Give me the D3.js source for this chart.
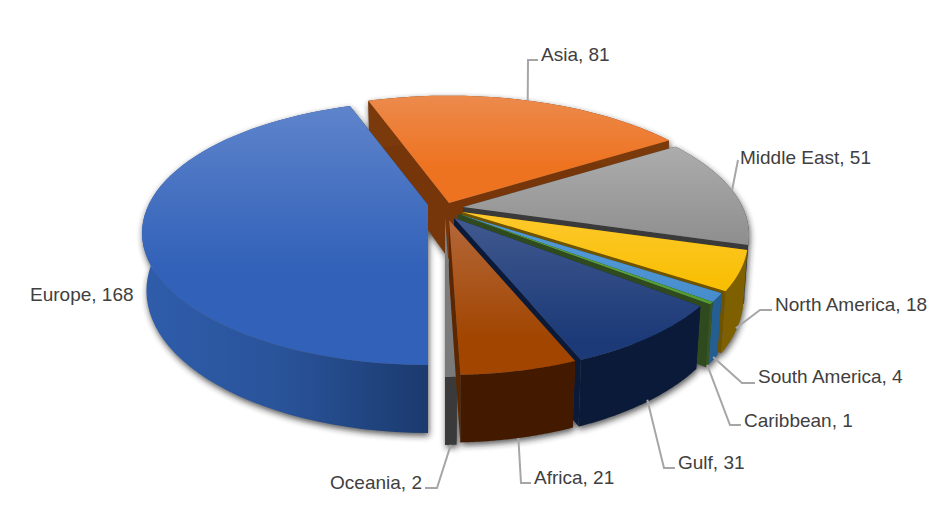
<!DOCTYPE html>
<html><head><meta charset="utf-8">
<script src="https://cdn.jsdelivr.net/npm/d3@7/dist/d3.min.js"></script>
<style>html,body{margin:0;padding:0;background:#fff}svg{display:block}text{font-family:"Liberation Sans",Arial,sans-serif;font-size:19px;fill:#404040}</style>
</head><body><svg id="c" width="940" height="519"></svg>
<script>
const categories=["Europe","Asia","Middle East","North America","South America","Caribbean","Gulf","Africa","Oceania"];
const values=[168,81,51,18,4,1,31,21,2];

// styling and layout, by category order
const topLight=["#6085cc","#ec8b4e","#adadad","#fec92e","#4f96d3","#5aa33a","#41598f","#b4673a","#7f7f7f"];
const topDark=["#3161b8","#ee7321","#8e8e8e","#f8be00","#478ccb","#4f9a30","#1c3a78","#a14500","#7a7a7a"];
const wallLeft=["#2f5dab","#7a3a0c","#3a3a3a","#7f6000","#255e91","#375623","#0b1a38","#431a00","#3a3a3a"];
const wallRight=["#1b3a6e","#7a3a0c","#3a3a3a","#7f6000","#255e91","#375623","#0b1a38","#431a00","#3a3a3a"];
const sideCol=["#1b3a6e","#763609","#3a3a3a","#6e5300","#1f4e7a","#2f4a1e","#0b1a38","#5c2600","#3a3a3a"];
const explodeX=[-20,1,15,14,10,10,6,1,-3];
const explodeY=[-7,-9,-5,0,2,2,6,8,5];
const radiusScale=[1,1.04,1,1,1,1,.98,.975,1];
const gradTop=[100,93,145,210,260,270,215,220,220];
const gradBottom=[270,165,245,290,300,310,340,340,370];
const paintOrder=[1,0,2,3,4,5,6,8,7];
const labelX=[30,541,740,775,758,744,678,534,422];
const labelY=[294,54,157,304,376,420,462,477,482];
const elbowX=[null,528,738,760,742,730,664,521,437];
const elbowY=[null,60,160,310,383,425,468,483,488];
const stubX=[null,538,null,772,755,741,675,531,425];
const leaderDepth=[0,0,0,.95,.95,.98,.97,1,1];

const X0=448,Y0=212,R=279.5,S=126,K=.212,D=57,M=.015;
const svg=d3.select("#c"),defs=svg.append("defs");

const pie=d3.pie().sort(null).startAngle(Math.PI).endAngle(3*Math.PI);
const arcs=pie(values);

function proj(a,r,z,i){ // a clockwise from top; z: 0 top plane, 1 bottom plane
  const rr=r*radiusScale[i],u=rr*Math.sin(a),v=-rr*Math.cos(a),w=1-K*v+M*z;
  return [X0+explodeX[i]+R*u/w, Y0+explodeY[i]+(S*v+D*z)/w];
}
const line=d3.line();
const arcPts=(s,e,z,i)=>d3.range(0,61).map(t=>proj(s+(e-s)*t/60,1,z,i));

const paths=arcs.map((d,i)=>{
  const s=d.startAngle,e=d.endAngle;
  const top=arcPts(s,e,0,i),bot=arcPts(s,e,1,i);
  const c0=proj(0,0,0,i),c1=proj(0,0,1,i);
  const o={
    top:line([c0,...top])+"Z",
    wall:line([...top,...bot.slice().reverse()])+"Z",
    side1:line([c0,top[0],bot[0],c1])+"Z",
    side2:line([c0,top[60],bot[60],c1])+"Z"
  };
  o.all=[o.top,o.wall,o.side1,o.side2];
  return o;
});

const f=defs.append("filter").attr("id","sh").attr("x","-10%").attr("y","-10%").attr("width","120%").attr("height","120%");
f.append("feGaussianBlur").attr("stdDeviation",3);

arcs.forEach((d,i)=>{
  const g=defs.append("linearGradient").attr("id","t"+i).attr("gradientUnits","userSpaceOnUse")
    .attr("x1",0).attr("x2",0).attr("y1",gradTop[i]).attr("y2",gradBottom[i]);
  g.append("stop").attr("offset",0).attr("stop-color",topLight[i]);
  g.append("stop").attr("offset",1).attr("stop-color",topDark[i]);
  const h=defs.append("linearGradient").attr("id","w"+i).attr("gradientUnits","objectBoundingBox");
  h.append("stop").attr("offset",0).attr("stop-color",wallLeft[i]);
  h.append("stop").attr("offset",.5).attr("stop-color",d3.interpolateRgb(wallLeft[i],wallRight[i])(.3));
  h.append("stop").attr("offset",1).attr("stop-color",wallRight[i]);
});

const shadow=svg.append("g").attr("filter","url(#sh)").attr("transform","translate(1,3)").attr("opacity",.75);
paths.forEach(p=>shadow.selectAll(null).data(p.all).join("path").attr("d",d=>d).attr("fill","#222"));

const slices=svg.append("g").selectAll("g").data(paintOrder).join("g");
slices.append("path").attr("d",i=>paths[i].side1).attr("fill",i=>sideCol[i]);
slices.append("path").attr("d",i=>paths[i].side2).attr("fill",i=>sideCol[i]);
slices.append("path").attr("d",i=>paths[i].wall).attr("fill",i=>`url(#w${i})`);
slices.append("path").attr("d",i=>paths[i].top).attr("fill",i=>`url(#t${i})`);

// leaders and labels
const lead=svg.append("g").attr("fill","none").attr("stroke","#a6a6a6").attr("stroke-width",2);
arcs.forEach((d,i)=>{
  if(elbowX[i]==null) return;
  const mid=(d.startAngle+d.endAngle)/2;
  const p=proj(mid,1,leaderDepth[i],i);
  const pts=[p,[elbowX[i],elbowY[i]]];
  if(stubX[i]!=null) pts.push([stubX[i],elbowY[i]]);
  lead.append("path").attr("d",line(pts));
});
svg.append("g").selectAll("text").data(categories).join("text")
  .attr("x",(d,i)=>labelX[i]).attr("y",(d,i)=>labelY[i]).attr("dy",".35em")
  .attr("text-anchor",(d,i)=>i==8?"end":"start")
  .text((d,i)=>`${d}, ${values[i]}`);
</script></body></html>
